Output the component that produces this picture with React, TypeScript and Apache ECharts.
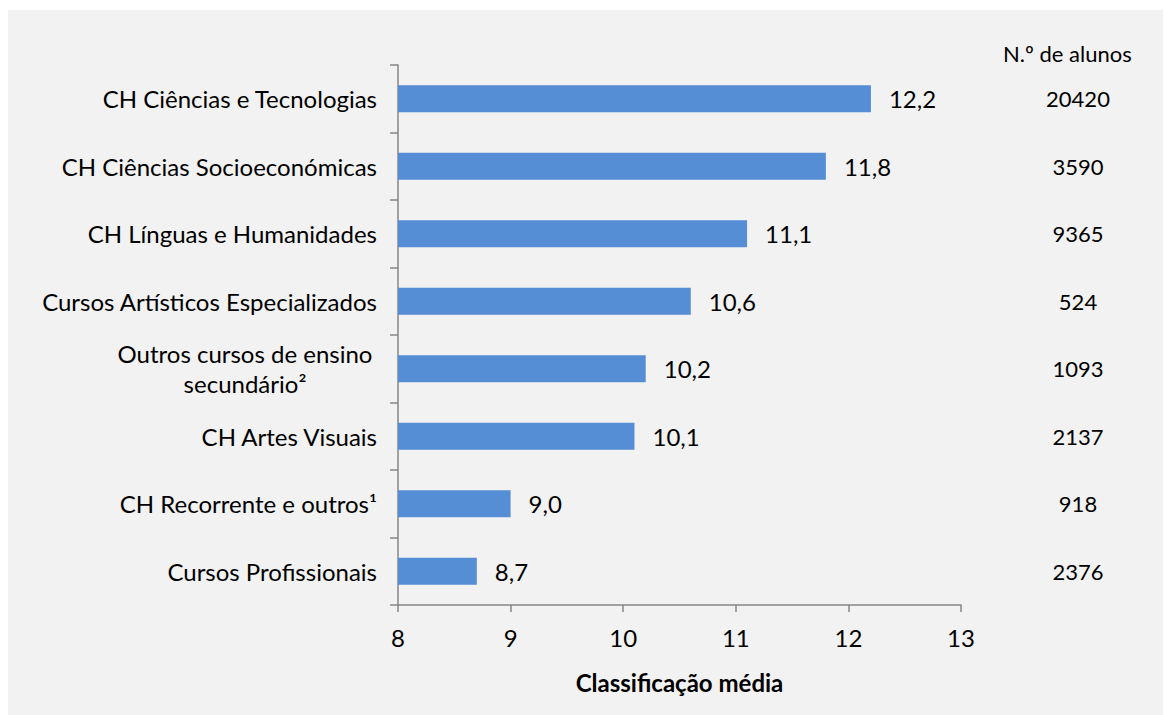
import React, { useEffect, useRef } from "react";
import * as echarts from "echarts";

const categories = [
  "CH Ciências e Tecnologias",
  "CH Ciências Socioeconómicas",
  "CH Línguas e Humanidades",
  "Cursos Artísticos Especializados",
  "Outros cursos de ensino\nsecundário²",
  "CH Artes Visuais",
  "CH Recorrente e outros¹",
  "Cursos Profissionais",
];
const averages = [12.2, 11.8, 11.1, 10.6, 10.2, 10.1, 9.0, 8.7];
const students = ["20420", "3590", "9365", "524", "1093", "2137", "918", "2376"];
const xTicks = { min: 8, max: 13, interval: 1 };

const FONT = "Lato, 'Open Sans', sans-serif";

export default function App() {
  const ref = useRef<HTMLDivElement>(null);
  useEffect(() => {
    if (!ref.current) return;
    const chart = echarts.init(ref.current, undefined, { renderer: "svg" });
    chart.setOption({
      animation: false,
      backgroundColor: "#f2f2f2",
      textStyle: { fontFamily: FONT, color: "#000" },
      title: {
        text: "N.º de alunos",
        left: 990,
        top: 27,
        textStyle: { fontFamily: FONT, fontSize: 22, fontWeight: "normal", color: "#000" },
      },
      grid: { left: 390, top: 55, width: 563, height: 540, containLabel: false },
      xAxis: {
        type: "value",
        min: xTicks.min,
        max: xTicks.max,
        interval: xTicks.interval,
        splitLine: { show: false },
        axisLine: { show: true, lineStyle: { color: "#868686", width: 1.5 } },
        axisTick: { show: true, length: 7, lineStyle: { color: "#868686", width: 1.5 } },
        axisLabel: { fontSize: 24, color: "#000", margin: 20, fontFamily: FONT },
        name: "Classificação média",
        nameLocation: "middle",
        nameGap: 65,
        nameTextStyle: { fontSize: 24, fontWeight: "bold", color: "#000", fontFamily: FONT },
      },
      yAxis: [
        {
          type: "category",
          data: categories,
          inverse: true,
          axisLine: { show: true, lineStyle: { color: "#868686", width: 1.5 } },
          axisTick: { show: true, length: 8, lineStyle: { color: "#868686", width: 1.5 } },
          axisLabel: {
            fontSize: 24,
            color: "#000",
            margin: 21,
            fontFamily: FONT,
            lineHeight: 30,
            formatter: (v: string) =>
              v.indexOf("\n") >= 0
                ? v.split("\n").map((s) => `{c|${s}}`).join("\n")
                : v,
            rich: {
              c: { align: "center", width: 264, fontSize: 24, lineHeight: 30, fontFamily: FONT, color: "#000" },
            },
          },
        },
        {
          type: "category",
          data: categories,
          inverse: true,
          position: "right",
          axisLine: { show: false },
          axisTick: { show: false },
          axisLabel: {
            fontSize: 22,
            color: "#000",
            align: "center",
            margin: 117,
            fontFamily: FONT,
            formatter: (_v: string, i: number) => students[i],
          },
        },
      ],
      series: [
        {
          type: "bar",
          data: averages,
          yAxisIndex: 0,
          barCategoryGap: "60%",
          itemStyle: { color: "#558ed5" },
          label: {
            show: true,
            position: "right",
            distance: 18,
            fontSize: 24,
            color: "#000",
            fontFamily: FONT,
            formatter: (p: any) => p.value.toFixed(1).replace(".", ","),
          },
        },
      ],
    });
    return () => chart.dispose();
  }, []);
  return <div ref={ref} style={{ width: 1163, height: 705, marginTop: 2 }} />;
}
